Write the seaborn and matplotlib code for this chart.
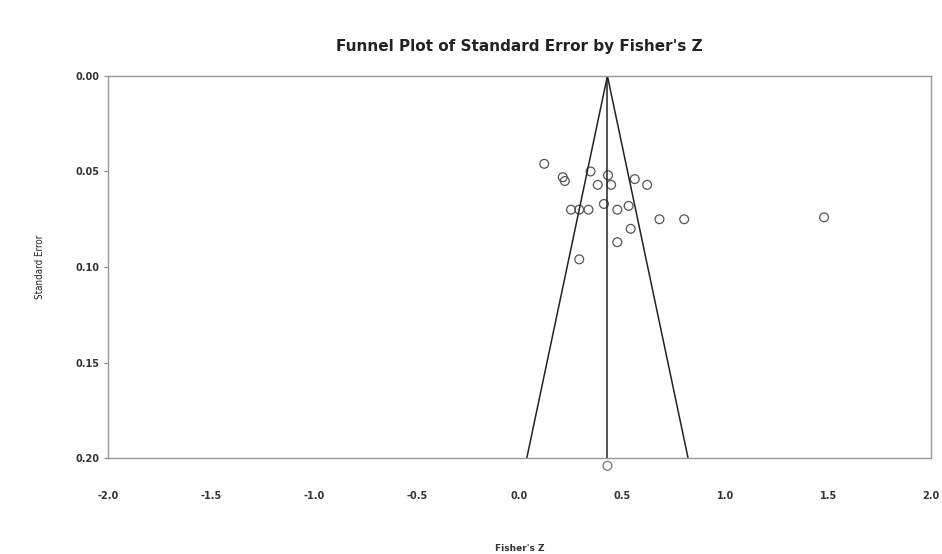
import numpy as np
import pandas as pd
import matplotlib
matplotlib.use("Agg")
import matplotlib.pyplot as plt
import seaborn as sns

# Study effects
fisher_z = [0.12, 0.21, 0.22, 0.345, 0.43, 0.38, 0.445, 0.56, 0.62,
            0.25, 0.29, 0.335, 0.41, 0.475, 0.53, 0.68, 0.80, 0.54,
            0.475, 0.29, 1.48]
std_err = [0.046, 0.053, 0.055, 0.050, 0.052, 0.057, 0.057, 0.054, 0.057,
           0.070, 0.070, 0.070, 0.067, 0.070, 0.068, 0.075, 0.075, 0.080,
           0.087, 0.096, 0.074]
combined_z = 0.427
combined_se = 0.204

x_ticks = [-2.0, -1.5, -1.0, -0.5, 0.0, 0.5, 1.0, 1.5, 2.0]
y_ticks = [0.00, 0.05, 0.10, 0.15, 0.20]

df = pd.DataFrame({"z": fisher_z, "se": std_err})

sns.set_style("white")
fig = plt.figure(figsize=(9.42, 5.54), dpi=100)
ax = fig.add_axes([0.1147, 0.173, 0.8737, 0.690])

sns.scatterplot(data=df, x="z", y="se", ax=ax, marker="o", s=40,
                facecolor="none", edgecolor="#555555", linewidth=0.9)
ax.scatter([combined_z], [combined_se], marker="o", s=40, facecolor="none",
           edgecolor="#777777", linewidth=0.9, clip_on=False)

# funnel
se_max = 0.2
ax.plot([combined_z - 1.96 * se_max, combined_z, combined_z + 1.96 * se_max],
        [se_max, 0, se_max], color="#222222", lw=1.1)
ax.plot([combined_z, combined_z], [0, se_max], color="#222222", lw=1.1)

ax.set_xlim(-2.0, 2.0)
ax.set_ylim(0.20, 0.00)
ax.set_xticks(x_ticks)
ax.set_yticks(y_ticks)
ax.set_xticklabels([f"{t:.1f}" for t in x_ticks], fontsize=7, fontweight="bold",
                   color="#333333")
ax.set_yticklabels([f"{t:.2f}" for t in y_ticks], fontsize=7, fontweight="bold",
                   color="#333333")
ax.tick_params(axis="x", length=0, pad=24)
ax.tick_params(axis="y", length=3, width=0.8, color="#888888", pad=3, left=True)

for sp in ax.spines.values():
    sp.set_color("#999999")
    sp.set_linewidth(1.0)

ax.set_xlabel("Fisher's Z", fontsize=6.5, fontweight="bold", labelpad=38,
              color="#333333")
ax.xaxis.set_label_coords(0.5, -0.225)
ax.set_ylabel("Standard Error", fontsize=7, color="#222222", labelpad=22,
              fontstretch="condensed")
ax.set_title("Funnel Plot of Standard Error by Fisher's Z", fontsize=11,
             fontweight="bold", pad=18, color="#222222")

fig.savefig("out.png", dpi=100)
